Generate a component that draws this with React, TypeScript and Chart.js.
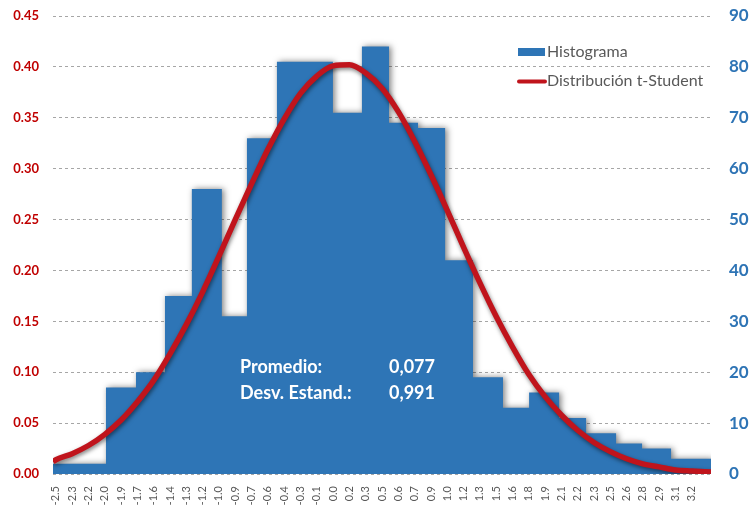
import React, { useEffect, useRef } from "react";
import { Chart, registerables } from "chart.js";

// ---- data ----
const xLabels = [
  "-2.5", "-2.3", "-2.2", "-2.0", "-1.9", "-1.7", "-1.6", "-1.4", "-1.3", "-1.2",
  "-1.0", "-0.9", "-0.7", "-0.6", "-0.4", "-0.3", "-0.1", "0.0", "0.2", "0.3",
  "0.5", "0.6", "0.7", "0.9", "1.0", "1.2", "1.3", "1.5", "1.6", "1.8",
  "1.9", "2.1", "2.2", "2.3", "2.5", "2.6", "2.8", "2.9", "3.1", "3.2",
];
const xTickValues = [
  -2.5, -2.354, -2.208, -2.061, -1.915, -1.769, -1.623, -1.477, -1.33, -1.184,
  -1.038, -0.892, -0.746, -0.599, -0.453, -0.307, -0.161, -0.015, 0.132, 0.278,
  0.424, 0.57, 0.716, 0.863, 1.009, 1.155, 1.301, 1.447, 1.594, 1.74,
  1.886, 2.032, 2.178, 2.325, 2.471, 2.617, 2.763, 2.909, 3.056, 3.202,
];
const xMin = -2.526;
const xMax = 3.374;

// histogram: bin edges (x units) and counts per bin (right axis)
const binEdges = [
  -2.526, -2.051, -1.782, -1.522, -1.281, -1.012, -0.787, -0.518, -0.016, 0.244,
  0.487, 0.747, 0.99, 1.24, 1.509, 1.743, 2.012, 2.254, 2.523, 2.756, 3.016, 3.374,
];
const binCounts = [2, 17, 20, 35, 56, 31, 66, 81, 71, 84, 69, 68, 42, 19, 13, 16, 11, 8, 6, 5, 3];

// t-Student density curve (left axis)
const curveX = [xMin, ...xTickValues, xMax];
const curveY = [
  0.012,
  0.014, 0.02, 0.028, 0.039, 0.053, 0.071, 0.092, 0.118, 0.147, 0.179,
  0.214, 0.25, 0.285, 0.319, 0.349, 0.374, 0.391, 0.401, 0.402, 0.394,
  0.379, 0.356, 0.327, 0.294, 0.259, 0.223, 0.188, 0.155, 0.125, 0.098,
  0.076, 0.058, 0.043, 0.031, 0.022, 0.015, 0.01, 0.007, 0.004, 0.003,
  0.002,
];

const seriesNames = ["Histograma", "Distribución t-Student"];
const statLabels = ["Promedio:", "Desv. Estand.:"];
const statValues = ["0,077", "0,991"];

const BLUE = "#2E75B6";
const RED = "#C0141C";
const FONT = "Lato, 'Open Sans', sans-serif";

const shadowPlugin = {
  id: "shadowPlugin",
  beforeDatasetsDraw(chart: any) {
    const ctx = chart.ctx;
    ctx.save();
    ctx.shadowColor = "rgba(0,0,0,0.5)";
    ctx.shadowBlur = 6;
    ctx.shadowOffsetX = 2;
    ctx.shadowOffsetY = 0;
  },
  beforeDatasetDraw(chart: any, args: any) {
    if (args.index === 1) {
      const ctx = chart.ctx;
      ctx.shadowColor = "rgba(0,0,0,0.5)";
      ctx.shadowBlur = 4;
      ctx.shadowOffsetX = 1;
      ctx.shadowOffsetY = 2;
    }
  },
  afterDatasetsDraw(chart: any) {
    chart.ctx.restore();
  },
};

const overlayPlugin = {
  id: "overlayPlugin",
  afterDraw(chart: any) {
    const ctx = chart.ctx;
    const a = chart.chartArea;
    ctx.save();
    // legend
    const lx = a.left + 465;
    ctx.fillStyle = BLUE;
    ctx.fillRect(lx, 48, 27, 8);
    ctx.strokeStyle = RED;
    ctx.lineWidth = 4;
    ctx.lineCap = "round";
    ctx.beginPath();
    ctx.moveTo(lx + 1, 81.5);
    ctx.lineTo(lx + 27, 81.5);
    ctx.stroke();
    ctx.fillStyle = "#595959";
    ctx.font = `16px ${FONT}`;
    ctx.textAlign = "left";
    ctx.textBaseline = "middle";
    ctx.fillText(seriesNames[0], lx + 29, 52);
    ctx.fillText(seriesNames[1], lx + 29, 81);
    // statistics text
    ctx.fillStyle = "#FFFFFF";
    ctx.font = `bold 18px ${FONT}`;
    const tx = a.left + 187;
    const vx = a.left + 382;
    const rows = [367, 393];
    for (let i = 0; i < statLabels.length; i++) {
      ctx.textAlign = "left";
      ctx.fillText(statLabels[i], tx, rows[i]);
      ctx.textAlign = "right";
      ctx.fillText(statValues[i], vx, rows[i]);
    }
    ctx.restore();
  },
};

export default function App() {
  const ref = useRef<HTMLCanvasElement | null>(null);
  useEffect(() => {
    document.body.style.margin = "0";
    Chart.register(...registerables);
    const histData = binEdges.map((e, i) => ({
      x: e,
      y: binCounts[Math.min(i, binCounts.length - 1)],
    }));
    const curveData = curveX.map((x, i) => ({ x, y: curveY[i] }));
    const chart = new Chart(ref.current as HTMLCanvasElement, {
      type: "line",
      data: {
        datasets: [
          {
            label: seriesNames[0],
            data: histData,
            yAxisID: "y1",
            stepped: "before",
            fill: "origin",
            backgroundColor: BLUE,
            borderColor: BLUE,
            borderWidth: 0,
            pointRadius: 0,
            order: 2,
          } as any,
          {
            label: seriesNames[1],
            data: curveData,
            yAxisID: "y",
            fill: false,
            borderColor: RED,
            borderWidth: 5.5,
            pointRadius: 0,
            tension: 0.4,
            cubicInterpolationMode: "monotone",
            order: 1,
          } as any,
        ],
      },
      options: {
        animation: false,
        responsive: false,
        devicePixelRatio: 1,
        layout: { padding: { top: 16, left: 0, right: 0, bottom: 0 } },
        plugins: {
          legend: { display: false },
          tooltip: { enabled: false },
        },
        scales: {
          x: {
            type: "linear",
            min: xMin,
            max: xMax,
            bounds: "data",
            grid: { display: false },
            border: { display: false },
            afterBuildTicks: (scale: any) => {
              scale.ticks = xTickValues.map((v) => ({ value: v }));
            },
            afterFit: (scale: any) => {
              scale.height = 32;
            },
            ticks: {
              autoSkip: false,
              maxRotation: 90,
              minRotation: 90,
              padding: 4,
              color: "#595959",
              font: { family: FONT, size: 11 },
              callback: (_v: any, i: number) => xLabels[i],
            },
          },
          y: {
            position: "left",
            min: 0,
            max: 0.45,
            border: { display: false, dash: [3, 3] },
            grid: {
              color: "#A6A6A6",
              lineWidth: 1,
              drawTicks: false,
            },
            afterFit: (scale: any) => {
              scale.width = 53;
              scale.paddingTop = 0;
              scale.paddingBottom = 0;
            },
            ticks: {
              stepSize: 0.05,
              padding: 14,
              color: "#C00000",
              font: { family: FONT, size: 13, weight: "bold" },
              callback: (v: any) => Number(v).toFixed(2),
            },
          } as any,
          y1: {
            position: "right",
            min: 0,
            max: 90,
            border: { display: false },
            grid: { display: false, drawTicks: false },
            afterFit: (scale: any) => {
              scale.width = 40;
              scale.paddingTop = 0;
              scale.paddingBottom = 0;
            },
            ticks: {
              stepSize: 10,
              padding: 18,
              color: "#2E74B5",
              font: { family: FONT, size: 17, weight: "bold" },
            },
          },
        },
      },
      plugins: [shadowPlugin, overlayPlugin],
    });
    return () => chart.destroy();
  }, []);
  return (
    <div style={{ width: 751, height: 506, background: "#FFFFFF" }}>
      <canvas ref={ref} width={751} height={506} style={{ display: "block" }} />
    </div>
  );
}
